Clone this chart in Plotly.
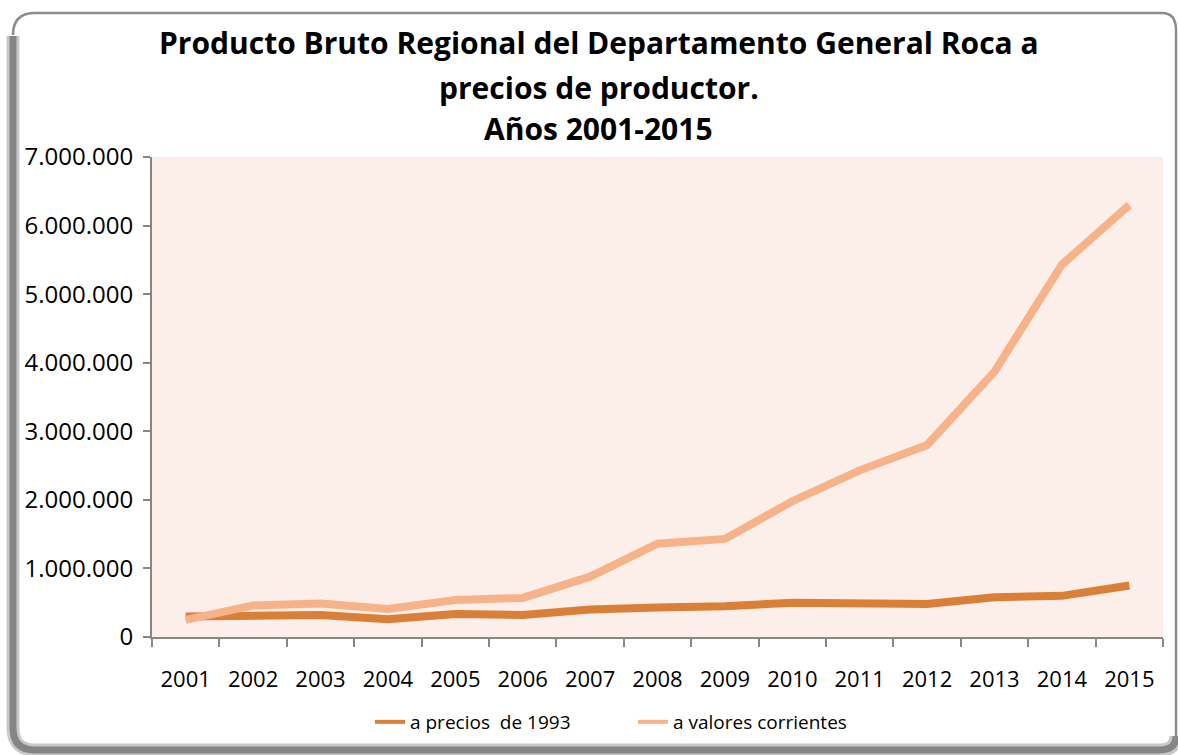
import plotly.graph_objects as go

years = [str(y) for y in range(2001, 2016)]
precios_1993 = [300000, 320000, 320000, 260000, 335000, 320000, 400000, 430000,
                450000, 500000, 500000, 480000, 580000, 600000, 750000]
valores_corrientes = [250000, 460000, 490000, 410000, 540000, 570000, 880000, 1360000,
                      1430000, 1980000, 2430000, 2800000, 3870000, 5430000, 6300000]
y_ticks = [0, 1000000, 2000000, 3000000, 4000000, 5000000, 6000000, 7000000]
title_lines = ["Producto Bruto Regional del Departamento General Roca a",
               "precios de productor.",
               "Años 2001-2015"]

W, H = 1178, 755
ML, MR, MT, MB = 152, 15, 157, 118
PW, PH = W - ML - MR, H - MT - MB
FONT = "Open Sans, Lato, sans-serif"
C1, C2 = "#DA7F37", "#F6B38A"

def px(x):
    return (x - ML) / PW

def py(y):
    return (H - MB - y) / PH

fig = go.Figure()
fig.add_trace(go.Scatter(x=years, y=precios_1993, mode="lines", name="a precios  de 1993",
                         line=dict(color=C1, width=8), showlegend=False))
fig.add_trace(go.Scatter(x=years, y=valores_corrientes, mode="lines", name="a valores corrientes",
                         line=dict(color=C2, width=8), showlegend=False))
# legend entries (thinner line symbols as in the reference)
fig.add_trace(go.Scatter(x=[None], y=[None], mode="lines", name="a precios  de 1993",
                         line=dict(color=C1, width=4)))
fig.add_trace(go.Scatter(x=[None], y=[None], mode="lines", name="a valores corrientes",
                         line=dict(color=C2, width=4)))

# frame: thick shaded left/bottom edges, thin top/right edges
r = 22
lb = (f"M {px(13)} {py(36)} L {px(13)} {py(750 - r)} "
      f"Q {px(13)} {py(750)} {px(13 + r)} {py(750)} L {px(1160)} {py(750)} "
      f"Q {px(1176)} {py(750)} {px(1176)} {py(736)}")
fig.add_shape(type="path", path=lb, xref="paper", yref="paper",
              line=dict(color="#C9C9C9", width=13), layer="below")
fig.add_shape(type="path", path=lb, xref="paper", yref="paper",
              line=dict(color="#858585", width=7), layer="below")
tr = (f"M {px(13)} {py(13 + r)} Q {px(13)} {py(13)} {px(13 + r)} {py(13)} "
      f"L {px(1162)} {py(13)} Q {px(1176)} {py(13)} {px(1176)} {py(30)} L {px(1176)} {py(740)}")
fig.add_shape(type="path", path=tr, xref="paper", yref="paper",
              line=dict(color="#8C8C8C", width=2.5), layer="below")

for txt, yc in zip(title_lines, [43, 87, 128]):
    fig.add_annotation(text=f"<b>{txt}</b>", x=px(598.5), y=py(yc), xref="paper", yref="paper",
                       xanchor="center", yanchor="middle", showarrow=False,
                       font=dict(size=30, family=FONT, color="#000000"))

fig.update_layout(
    width=W, height=H,
    margin=dict(l=ML, r=MR, t=MT, b=MB),
    paper_bgcolor="white",
    plot_bgcolor="#FCEEE9",
    separators=",.",
    font=dict(family=FONT, color="#000000"),
    showlegend=True,
    legend=dict(orientation="h", x=px(633), xanchor="center", y=-(722 - (H - MB)) / PH,
                yanchor="middle", font=dict(size=19), bgcolor="rgba(0,0,0,0)",
                entrywidth=218, entrywidthmode="pixels", traceorder="normal"),
    xaxis=dict(
        type="category", tickson="boundaries", showgrid=False, showline=True,
        linecolor="#868686", linewidth=2, ticks="outside", ticklen=8, tickwidth=2,
        tickcolor="#868686", tickfont=dict(size=22), ticklabelstandoff=22,
        range=[-0.5, 14.5],
    ),
    yaxis=dict(
        range=[0, 7000000], tickvals=y_ticks, tickformat=",d", showgrid=False,
        showline=True, linecolor="#868686", linewidth=2, ticks="outside", ticklen=7,
        tickwidth=2, tickcolor="#868686", tickfont=dict(size=24), zeroline=False,
        ticklabelstandoff=5,
    ),
)

fig.write_html("out.html", config={"displayModeBar": False},
               post_script="document.body.style.margin='0';")
